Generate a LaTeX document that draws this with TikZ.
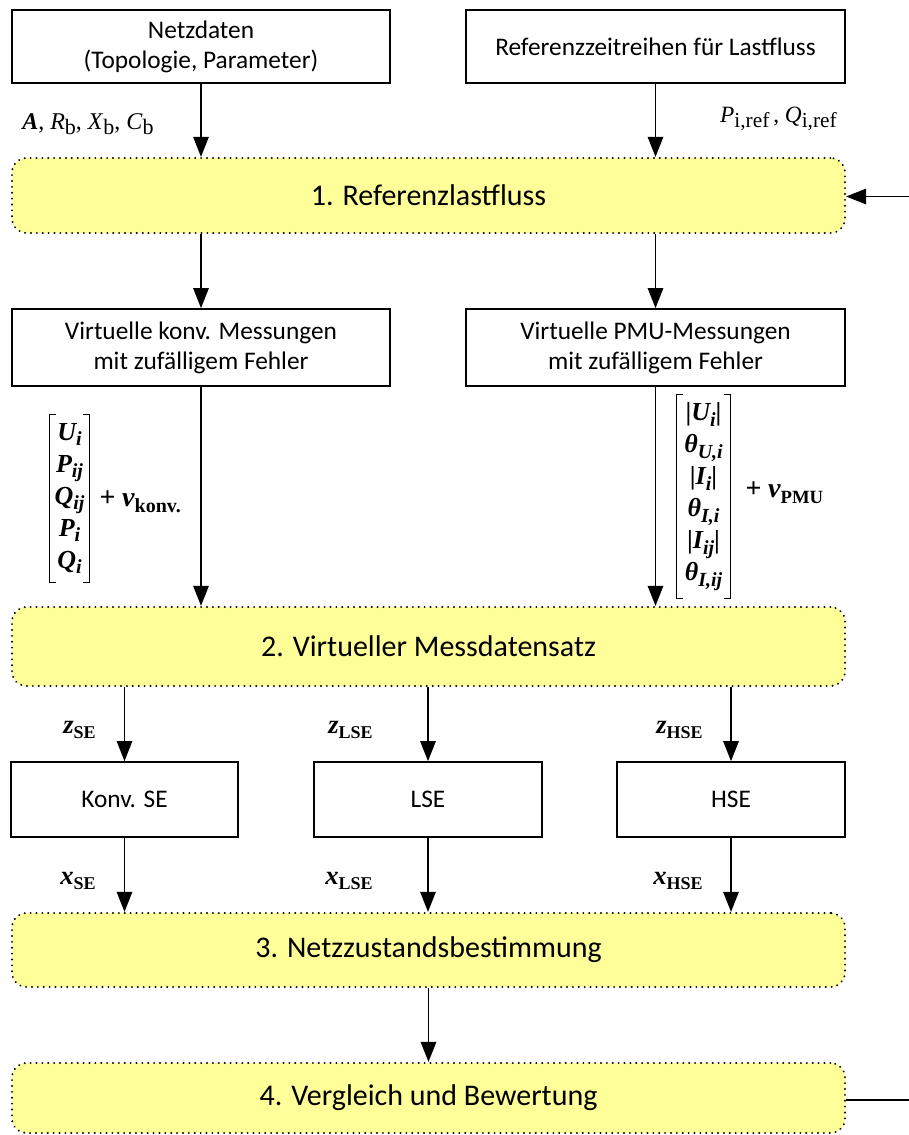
\documentclass[tikz,border=0pt]{standalone}
\usepackage{fontspec}
\setmainfont{Carlito}
\newfontfamily\tms{Liberation Serif}
\usetikzlibrary{arrows.meta}
\definecolor{boxyellow}{HTML}{FFFF99}
\newcommand\lsub[2][11]{\raisebox{-0.22em}{\fontsize{#1}{#1}\selectfont #2}}
\begin{document}
\begin{tikzpicture}[x=0.75pt,y=-0.75pt,
  plain/.style={draw,line width=1.2pt,fill=white,align=center,inner sep=0pt,font=\fontsize{19}{22.5}\selectfont},
  stage/.style={draw,line width=1.6pt,dash pattern=on 0.01pt off 4.4pt,line cap=round,rounded corners=11pt,fill=boxyellow,minimum width=624.75pt,inner sep=0pt,font=\fontsize{22.5}{26}\selectfont},
  arr/.style={line width=1.3pt,-{Triangle[length=15pt,width=11.5pt]}},
  lbl/.style={inner sep=0pt},
  brk/.style={line width=1pt},
  mat/.style={inner sep=0pt,align=center,font=\tms\bfseries\itshape\fontsize{19.5}{24}\selectfont},
]
\useasboundingbox (0,0) rectangle (909,1135);
% boxes
\node[plain,minimum width=283.5pt,minimum height=54.75pt] (nd) at (201,46.5) {Netzdaten\\(Topologie, Parameter)};
\node[plain,minimum width=284.25pt,minimum height=54.75pt] (rz) at (655.5,46.5) {Referenzzeitreihen für Lastfluss};
\node[stage,minimum height=56.25pt] (b1) at (428.5,195.5) {1. Referenzlastfluss};
\node[plain,minimum width=283.5pt,minimum height=57.75pt] (vk) at (201,347.5) {Virtuelle konv. Messungen\\mit zufälligem Fehler};
\node[plain,minimum width=284.25pt,minimum height=57.75pt] (vp) at (655.5,347.5) {Virtuelle PMU-Messungen\\mit zufälligem Fehler};
\node[stage,minimum height=59.25pt] (b2) at (428.5,646.5) {2. Virtueller Messdatensatz};
\node[plain,minimum width=170.25pt,minimum height=56.25pt] (kse) at (124.5,799.5) {Konv. SE};
\node[plain,minimum width=171pt,minimum height=56.25pt] (lse) at (428,799.5) {LSE};
\node[plain,minimum width=171pt,minimum height=56.25pt] (hse) at (731,799.5) {HSE};
\node[stage,minimum height=55.5pt] (b3) at (428.5,950) {3. Netzzustandsbestimmung};
\node[stage,minimum height=52.5pt] (b4) at (428.5,1098) {4. Vergleich und Bewertung};
% labels
\node[lbl,anchor=base west,font=\tms\fontsize{18}{20}\selectfont] (l1) at (22,129)
  {{\bfseries\itshape A}, \textit{R}\lsub[16.5]{b}, \textit{X}\lsub[16.5]{b}, \textit{C}\lsub[16.5]{b}};
\node[lbl,anchor=base east,font=\tms\fontsize{17.5}{20}\selectfont] (l2) at (837,122)
  {\textit{P}\lsub[16]{i,ref}\,, \textit{Q}\lsub[16]{i,ref}};
% konv matrix
\node[mat,minimum width=29.25pt,minimum height=125.25pt] (mk) at (69.5,498.5)
  {U\lsub[15]{i}\\P\lsub[15]{ij}\\Q\lsub[15]{ij}\\P\lsub[15]{i}\\Q\lsub[15]{i}};
\draw[brk] ([xshift=4.5pt]mk.north west) -- (mk.north west) -- (mk.south west) -- ([xshift=4.5pt]mk.south west);
\draw[brk] ([xshift=-4.5pt]mk.north east) -- (mk.north east) -- (mk.south east) -- ([xshift=-4.5pt]mk.south east);
\node[lbl,anchor=west,font=\tms\bfseries\itshape\fontsize{21}{24}\selectfont] (nk) at (99,502)
  {+ ν\lsub[15]{\upshape konv.}};
% PMU matrix
\node[mat,minimum width=39.75pt,minimum height=152.25pt] (mp) at (703.5,496.5)
  {{\upshape|}U\lsub[15]{i}{\upshape|}\\θ\lsub[15]{U,i}\\{\upshape|}I\lsub[15]{i}{\upshape|}\\θ\lsub[15]{I,i}\\{\upshape|}I\lsub[15]{ij}{\upshape|}\\θ\lsub[15]{I,ij}};
\draw[brk] ([xshift=4.5pt]mp.north west) -- (mp.north west) -- (mp.south west) -- ([xshift=4.5pt]mp.south west);
\draw[brk] ([xshift=-4.5pt]mp.north east) -- (mp.north east) -- (mp.south east) -- ([xshift=-4.5pt]mp.south east);
\node[lbl,anchor=west,font=\tms\bfseries\itshape\fontsize{21}{24}\selectfont] (np) at (745,493)
  {+ ν\lsub[14]{\upshape PMU}};
% z / x labels
\tikzset{zx/.style={lbl,anchor=base east,font=\tms\bfseries\itshape\fontsize{20}{22}\selectfont}}
\node[zx] (zse) at (96,733) {z\lsub[13.5]{\upshape SE}};
\node[zx] (zlse) at (373,733) {z\lsub[13.5]{\upshape LSE}};
\node[zx] (zhse) at (703,733) {z\lsub[13.5]{\upshape HSE}};
\node[zx] (xse) at (96,884) {x\lsub[13.5]{\upshape SE}};
\node[zx] (xlse) at (373,884) {x\lsub[13.5]{\upshape LSE}};
\node[zx] (xhse) at (703,884) {x\lsub[13.5]{\upshape HSE}};
% connectors
\draw[arr] (nd.south) -- (nd.south |- b1.north);
\draw[arr] (rz.south) -- (rz.south |- b1.north);
\draw[arr] (vk.north |- b1.south) -- (vk.north);
\draw[arr] (vp.north |- b1.south) -- (vp.north);
\draw[arr] (vk.south) -- (vk.south |- b2.north);
\draw[arr] (vp.south) -- (vp.south |- b2.north);
\draw[arr] (kse.north |- b2.south) -- (kse.north);
\draw[arr] (lse.north |- b2.south) -- (lse.north);
\draw[arr] (hse.north |- b2.south) -- (hse.north);
\draw[arr] (kse.south) -- (kse.south |- b3.north);
\draw[arr] (lse.south) -- (lse.south |- b3.north);
\draw[arr] (hse.south) -- (hse.south |- b3.north);
\draw[arr] (b3.south) -- (b4.north);
\coordinate (fbin) at (909,196.5);
\coordinate (fbout) at (909,1100);
\draw[arr] (fbin) -- (b1.east |- fbin);
\draw[line width=1.3pt] (b4.east |- fbout) -- (fbout);
\end{tikzpicture}
\end{document}
